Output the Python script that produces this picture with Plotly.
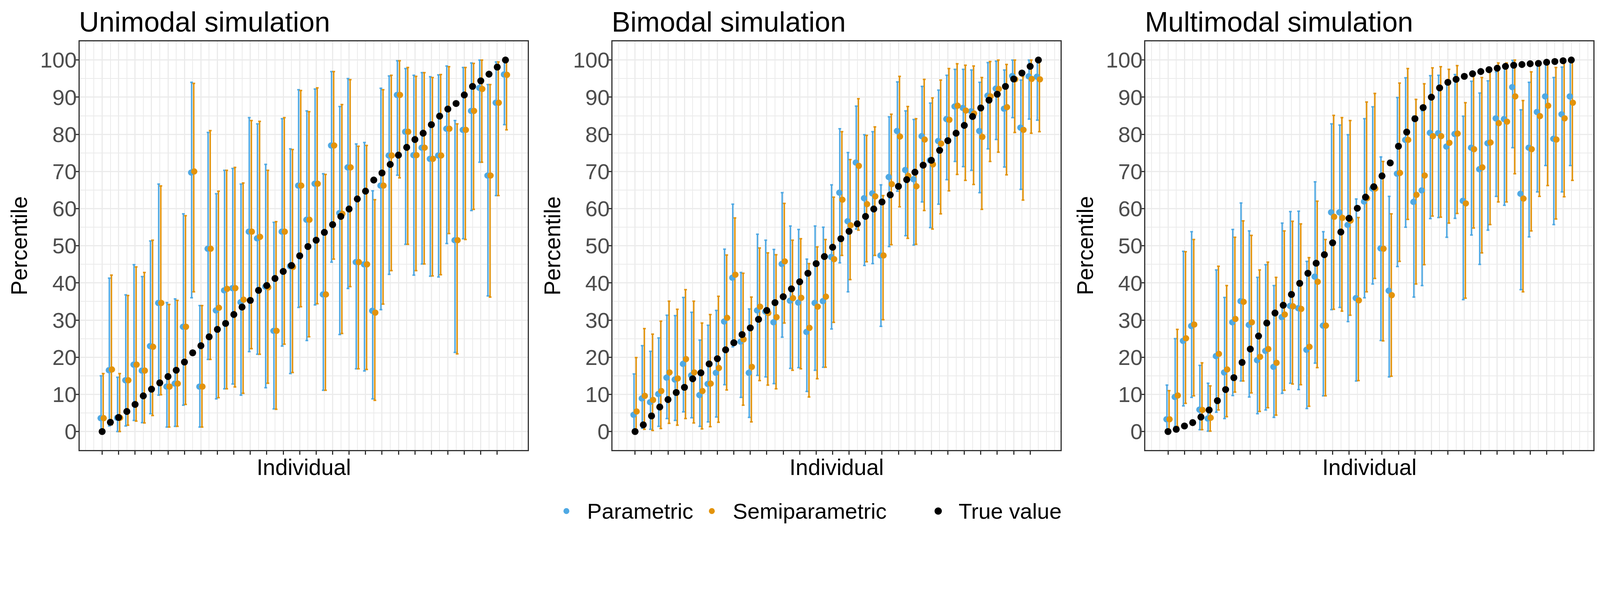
import plotly.graph_objects as go
from plotly.subplots import make_subplots

# target picture size; the page is photographed ~1.12x larger than css px,
# so the figure is built smaller and every absolute px value is divided by S
PW, PH = 4583, 1527
S = 1.12
W, H = round(PW / S), round(PH / S)


def px(v):
    return v / S


BLUE = "#4FA9E4"
ORANGE = "#E3930A"
FONT = "Liberation Sans"

panel_titles = ["Unimodal simulation", "Bimodal simulation", "Multimodal simulation"]
individual = list(range(1, 51))
y_ticks = list(range(0, 101, 10))

# --- unimodal ---
uni_true = [0, 2.5, 3.8, 5.4, 7.3, 9.6, 11.4, 13.1, 14.8, 16.5, 18.7, 21.2, 23.1, 25.5, 27.5, 29.1, 31.5, 33.5, 35.3, 38.0, 39.3, 41.2, 43.1, 44.7, 47.3,
            49.8, 51.5, 53.6, 55.7, 57.9, 59.9, 62.6, 64.7, 67.7, 69.6, 71.9, 74.4, 76.5, 78.6, 80.3, 82.6, 84.9, 86.8, 88.3, 90.6, 92.9, 94.4, 96.2, 98.1, 100.0]
uni_par = [3.6, 16.5, 3.7, 13.8, 18.0, 16.4, 23.0, 34.6, 12.1, 12.9, 28.2, 69.7, 12.1, 49.2, 32.6, 38.0, 38.6, 34.8, 53.8, 52.0, 39.0, 27.1, 53.8, 44.5, 66.2,
           57.0, 66.7, 36.9, 77.0, 58.8, 71.1, 45.6, 45.0, 32.5, 66.2, 74.3, 90.6, 80.7, 74.4, 76.4, 73.4, 74.3, 81.5, 51.5, 81.2, 86.3, 92.5, 68.9, 88.5, 96.1]
uni_par_lo = [0, 1.5, 0, 1.5, 3.0, 2.4, 4.8, 9.8, 1.2, 1.4, 7.1, 36.0, 1.2, 19.4, 8.8, 11.5, 12.8, 9.8, 21.5, 20.8, 11.8, 6.1, 23.0, 15.6, 33.4,
              24.5, 34.1, 11.1, 45.6, 26.1, 38.5, 16.9, 16.3, 8.8, 32.8, 42.3, 69.0, 50.4, 42.1, 45.1, 41.8, 41.6, 50.6, 21.3, 51.9, 59.5, 72.5, 36.5, 63.5, 82.6]
uni_par_hi = [15.0, 41.3, 14.6, 36.8, 44.9, 41.7, 51.3, 66.6, 34.7, 35.7, 58.6, 94.0, 33.9, 80.5, 64.0, 70.3, 70.8, 66.6, 84.5, 82.8, 71.9, 56.3, 84.2, 76.1, 92.0,
              86.3, 92.2, 69.4, 96.9, 87.5, 95.0, 77.4, 77.8, 64.8, 92.4, 95.7, 99.8, 97.7, 95.9, 96.6, 95.5, 96.0, 98.4, 83.7, 98.0, 99.2, 100.0, 93.4, 99.5, 100.0]
uni_semi = [3.6, 16.7, 3.7, 13.8, 18.0, 16.4, 22.8, 34.6, 12.1, 12.9, 28.2, 70.0, 12.1, 49.2, 33.3, 38.4, 38.6, 35.5, 53.8, 52.4, 38.8, 27.1, 53.8, 44.3, 66.2,
            57.0, 66.7, 36.9, 77.0, 58.6, 71.1, 45.6, 45.0, 32.0, 66.2, 74.3, 90.6, 80.7, 74.4, 76.4, 73.4, 74.3, 81.5, 51.5, 81.2, 86.3, 92.2, 68.9, 88.5, 96.0]
uni_semi_lo = [0, 1.8, 0, 1.7, 2.8, 2.3, 4.3, 9.9, 1.2, 1.4, 7.3, 37.6, 1.2, 19.4, 9.1, 11.5, 12.0, 10.3, 22.3, 20.8, 13.0, 6.0, 23.5, 15.9, 33.6,
               25.5, 34.4, 11.1, 46.4, 26.4, 39.0, 16.9, 16.7, 8.4, 34.3, 43.3, 68.3, 50.4, 43.3, 45.1, 41.9, 42.2, 53.3, 20.9, 51.7, 59.8, 72.5, 36.2, 63.5, 81.2]
uni_semi_hi = [15.6, 42.1, 15.6, 36.6, 44.3, 42.8, 51.5, 66.1, 34.2, 35.3, 58.1, 93.7, 33.9, 81.0, 64.7, 70.3, 71.1, 66.9, 83.7, 83.5, 70.3, 56.5, 84.5, 75.9, 91.8,
               86.1, 92.5, 69.2, 96.9, 88.0, 94.7, 76.8, 77.0, 62.4, 92.0, 95.9, 99.8, 98.0, 95.6, 96.6, 95.3, 96.1, 98.2, 82.8, 98.0, 99.1, 100.0, 93.4, 99.5, 99.5]

# --- bimodal ---
bi_true = [0, 1.8, 4.2, 6.6, 8.6, 10.5, 11.9, 14.2, 15.8, 18.2, 19.6, 22.0, 23.9, 26.1, 27.9, 30.2, 32.6, 34.7, 36.3, 38.4, 40.3, 42.6, 45.2, 47.1, 49.6,
           51.9, 53.9, 55.9, 57.9, 59.9, 61.8, 63.7, 66.0, 67.8, 69.8, 71.7, 73.0, 75.7, 78.3, 80.3, 82.4, 84.8, 87.1, 89.2, 90.8, 92.9, 94.9, 96.5, 98.3, 100.0]
bi_par = [4.5, 8.9, 7.9, 10.1, 14.5, 14.0, 18.2, 15.1, 9.8, 12.8, 15.8, 29.6, 41.4, 24.2, 15.8, 32.6, 32.3, 29.4, 45.1, 35.2, 34.7, 26.8, 34.6, 35.1, 47.0,
          64.3, 56.6, 72.4, 62.8, 64.1, 47.4, 68.5, 80.9, 70.4, 67.9, 79.5, 73.0, 78.2, 84.1, 87.5, 87.1, 86.2, 80.9, 90.4, 92.3, 86.9, 95.7, 81.8, 95.6, 95.5]
bi_par_lo = [0, 0.9, 0.6, 1.4, 3.5, 3.0, 5.3, 3.7, 1.4, 2.6, 3.9, 12.6, 22.8, 9.2, 3.8, 15.1, 14.7, 12.9, 25.4, 17.0, 17.2, 10.8, 16.5, 17.3, 27.6,
             45.4, 37.6, 54.5, 44.7, 45.2, 28.3, 49.8, 64.7, 52.7, 50.2, 61.8, 54.9, 61.2, 67.8, 72.7, 71.3, 70.3, 64.3, 76.1, 78.6, 71.2, 84.5, 65.2, 84.1, 83.8]
bi_par_hi = [15.5, 23.1, 21.6, 25.2, 31.3, 31.2, 36.1, 32.1, 24.6, 28.6, 32.6, 49.1, 61.2, 42.8, 33.0, 53.1, 51.5, 49.0, 64.3, 55.3, 54.4, 46.4, 55.3, 55.0, 66.4,
             81.5, 75.1, 87.6, 79.9, 80.7, 66.4, 84.7, 94.1, 86.3, 84.0, 92.9, 88.4, 91.9, 95.9, 97.5, 97.5, 97.3, 94.0, 99.3, 99.7, 97.3, 100.0, 94.6, 100.0, 100.0]
bi_semi = [5.4, 9.6, 8.5, 10.9, 15.9, 14.3, 19.5, 15.9, 10.9, 12.9, 17.1, 30.6, 42.2, 24.8, 17.4, 33.6, 31.9, 30.8, 45.8, 35.9, 36.0, 27.9, 33.6, 36.3, 46.4,
           62.4, 55.5, 71.5, 61.2, 63.3, 47.4, 66.6, 79.4, 68.8, 66.0, 78.6, 71.9, 77.5, 83.9, 87.7, 86.4, 85.6, 79.3, 90.2, 92.2, 87.3, 94.8, 81.2, 94.9, 94.8]
bi_semi_lo = [0, 0.6, 0.3, 0.8, 2.2, 1.7, 3.5, 2.3, 0.7, 1.3, 2.5, 11.2, 24.0, 7.1, 2.6, 13.7, 12.5, 11.5, 29.2, 16.5, 16.9, 9.3, 14.2, 17.3, 29.4,
              47.4, 40.9, 54.2, 45.7, 47.4, 30.1, 50.3, 60.5, 52.0, 50.4, 59.5, 54.5, 58.6, 64.8, 69.2, 67.6, 66.5, 59.8, 72.7, 75.2, 69.1, 80.5, 62.3, 80.3, 80.7]
bi_semi_hi = [19.9, 27.7, 26.2, 29.7, 35.1, 32.9, 38.2, 35.1, 29.2, 31.5, 36.4, 47.5, 57.5, 42.6, 36.2, 49.4, 48.1, 47.6, 61.4, 51.5, 51.9, 45.2, 49.7, 51.7, 63.1,
              80.7, 73.2, 89.6, 79.7, 82.0, 63.5, 85.4, 95.6, 87.5, 84.2, 94.8, 89.8, 94.6, 97.7, 99.0, 98.6, 98.4, 95.3, 99.6, 100.0, 98.8, 100.0, 95.5, 100.0, 100.0]

# --- multimodal ---
multi_true = [0, 0.6, 1.5, 2.4, 3.9, 5.8, 8.3, 11.3, 14.5, 18.6, 22.2, 25.7, 29.2, 31.9, 34.0, 36.9, 39.9, 42.6, 45.3, 47.6, 50.8, 53.7, 57.4, 60.1, 63.1,
              65.9, 68.8, 72.3, 76.8, 80.6, 84.2, 87.2, 90.0, 92.5, 94.0, 94.8, 95.6, 96.3, 96.9, 97.4, 97.8, 98.3, 98.6, 98.8, 99.0, 99.1, 99.4, 99.6, 99.8, 100.0]
multi_par = [3.3, 9.3, 24.4, 28.4, 5.9, 3.5, 20.3, 15.9, 29.4, 35.1, 28.7, 19.2, 21.7, 17.4, 30.8, 33.8, 33.2, 22.0, 41.7, 28.5, 59.0, 59.0, 55.6, 35.9, 61.9,
             65.4, 49.3, 37.9, 69.4, 78.5, 61.8, 64.9, 80.4, 80.3, 76.7, 80.1, 62.1, 76.4, 70.6, 77.6, 84.3, 84.1, 92.7, 64.0, 76.4, 86.0, 90.2, 78.8, 85.4, 90.2]
multi_par_lo = [0, 1.4, 6.9, 9.2, 0.5, 0.1, 5.2, 3.5, 9.7, 13.6, 9.3, 4.8, 5.8, 3.8, 10.3, 13.0, 11.3, 6.2, 18.4, 9.6, 32.8, 33.4, 29.6, 13.6, 36.0,
                39.7, 24.5, 14.7, 44.4, 55.0, 36.2, 39.3, 57.3, 57.6, 52.3, 57.4, 35.5, 52.9, 45.0, 54.2, 63.3, 60.9, 76.4, 38.2, 52.4, 64.5, 71.6, 55.7, 64.5, 71.6]
multi_par_hi = [12.5, 25.0, 48.5, 53.8, 17.8, 13.0, 43.5, 36.1, 54.4, 61.5, 54.0, 41.5, 44.9, 39.3, 56.1, 59.2, 59.3, 45.8, 67.2, 53.8, 82.8, 82.5, 79.9, 62.6, 84.2,
                87.4, 73.9, 63.3, 89.9, 95.2, 84.9, 86.3, 95.8, 95.9, 93.5, 96.1, 84.9, 94.3, 91.1, 94.4, 96.8, 97.9, 99.9, 86.6, 94.0, 98.8, 99.5, 95.3, 98.1, 99.7]
multi_semi = [3.3, 9.7, 25.1, 28.8, 5.8, 3.7, 20.9, 16.7, 30.3, 34.9, 29.4, 20.1, 22.2, 18.5, 31.5, 33.7, 33.0, 22.8, 40.3, 28.5, 57.8, 57.5, 56.8, 35.3, 62.8,
              65.4, 49.2, 36.7, 69.6, 78.5, 63.7, 68.9, 79.5, 79.5, 77.7, 80.2, 61.4, 76.0, 71.1, 77.8, 83.0, 83.4, 90.2, 62.7, 76.0, 84.9, 87.7, 78.6, 84.3, 88.5]
multi_semi_lo = [0, 1.4, 7.6, 9.6, 0.5, 0.1, 5.8, 4.0, 10.6, 13.6, 10.4, 5.4, 6.4, 4.4, 11.1, 12.8, 12.6, 6.8, 17.2, 9.6, 32.9, 32.4, 31.3, 13.7, 37.6,
                 41.2, 24.4, 14.9, 45.8, 57.1, 39.7, 44.9, 58.0, 57.7, 56.1, 58.7, 35.9, 54.8, 48.1, 55.7, 61.8, 61.8, 69.4, 37.6, 54.0, 63.3, 66.2, 57.2, 63.2, 67.6]
multi_semi_hi = [11.0, 27.5, 48.4, 51.7, 18.5, 12.3, 44.5, 39.3, 52.3, 56.7, 52.8, 43.5, 45.6, 41.5, 54.0, 56.6, 55.9, 46.8, 62.0, 51.7, 85.1, 84.5, 83.7, 57.6, 88.7,
                 91.0, 72.7, 58.6, 93.8, 97.7, 89.4, 93.6, 97.9, 98.2, 97.5, 98.5, 88.5, 96.4, 95.3, 97.4, 99.2, 99.2, 100.0, 89.1, 96.8, 99.2, 99.6, 98.0, 99.7, 100.0]

panels = [
    (uni_true, uni_par, uni_par_lo, uni_par_hi, uni_semi, uni_semi_lo, uni_semi_hi),
    (bi_true, bi_par, bi_par_lo, bi_par_hi, bi_semi, bi_semi_lo, bi_semi_hi),
    (multi_true, multi_par, multi_par_lo, multi_par_hi, multi_semi, multi_semi_lo, multi_semi_hi),
]

BAR_DODGE = 0.13
PT_DODGE = 0.19

fig = make_subplots(rows=1, cols=3)

for c, (true, par, par_lo, par_hi, semi, semi_lo, semi_hi) in enumerate(panels, start=1):
    # error bars first (blue then orange)
    for lo, hi, col, sgn in [(par_lo, par_hi, BLUE, -1), (semi_lo, semi_hi, ORANGE, 1)]:
        fig.add_trace(go.Scatter(
            x=[i + sgn * BAR_DODGE for i in individual],
            y=[(a + b) / 2 for a, b in zip(lo, hi)],
            mode="markers",
            marker=dict(size=1, color="rgba(0,0,0,0)"),
            error_y=dict(type="data", array=[(b - a) / 2 for a, b in zip(lo, hi)],
                         color=col, thickness=px(4.2), width=px(4)),
            showlegend=False, hoverinfo="skip"), row=1, col=c)
    # point estimates
    for est, col, sgn in [(par, BLUE, -1), (semi, ORANGE, 1)]:
        fig.add_trace(go.Scatter(
            x=[i + sgn * PT_DODGE for i in individual], y=est,
            mode="markers", marker=dict(size=px(18), color=col, line=dict(width=0)),
            showlegend=False), row=1, col=c)
    # true value
    fig.add_trace(go.Scatter(
        x=individual, y=true, mode="markers",
        marker=dict(size=px(20), color="black", line=dict(width=0)),
        showlegend=False), row=1, col=c)

# panel geometry, in px of the target picture
PANEL_W = 1285
PANEL_STEP = 1528
LEFT0 = 219
TOP, BOTTOM = 110, 1283

major_x = list(range(1, 50, 2))
minor_x = [v for v in range(-1, 53) if v not in major_x]

annotations = []
for k in range(3):
    L = LEFT0 + k * PANEL_STEP
    R = L + PANEL_W
    sfx = "" if k == 0 else str(k + 1)
    axis_common = dict(showline=True, mirror=True, linecolor="#333333", linewidth=px(3),
                       ticks="outside", ticklen=px(10), tickwidth=px(3), tickcolor="#333333",
                       showgrid=True, gridcolor="#EBEBEB", gridwidth=px(3.4), zeroline=False)
    fig.layout["xaxis" + sfx].update(
        domain=[L / PW, R / PW], range=[-1.75, 52.7],
        tickmode="array", tickvals=major_x, showticklabels=False,
        minor=dict(tickvals=minor_x, showgrid=True, gridcolor="#EBEBEB", gridwidth=px(1.7), ticklen=0),
        **axis_common)
    fig.layout["yaxis" + sfx].update(
        domain=[1 - BOTTOM / PH, 1 - TOP / PH], range=[-5, 105],
        tickmode="array", tickvals=y_ticks, ticktext=[str(v) for v in y_ticks],
        tickfont=dict(family=FONT, size=px(63), color="#4D4D4D"),
        ticklabelstandoff=-16,
        minor=dict(tickvals=list(range(5, 100, 10)), showgrid=True, gridcolor="#EBEBEB",
                   gridwidth=px(1.7), ticklen=0),
        **axis_common)

    annotations.append(dict(text=panel_titles[k], x=(L - 4) / PW, y=1 - 54 / PH, xref="paper", yref="paper",
                            xanchor="left", yanchor="middle", showarrow=False,
                            font=dict(family=FONT, size=px(80), color="black")))
    annotations.append(dict(text="Percentile", x=(46 + k * PANEL_STEP) / PW, y=1 - ((TOP + BOTTOM) / 2) / PH,
                            xref="paper", yref="paper", xanchor="center", yanchor="middle",
                            textangle=-90, showarrow=False,
                            font=dict(family=FONT, size=px(64), color="black")))
    annotations.append(dict(text="Individual", x=((L + R) / 2) / PW, y=1 - 1332 / PH,
                            xref="paper", yref="paper", xanchor="center", yanchor="middle",
                            showarrow=False, font=dict(family=FONT, size=px(64), color="black")))

# manual legend at the bottom
legend_items = [("Parametric", BLUE, 1615, 1672, 17),
                ("Semiparametric", ORANGE, 2032, 2090, 17),
                ("True value", "black", 2681, 2737, 21)]
shapes = []
LEG_Y = 1458
for label, col, cx, tx, d in legend_items:
    r = d / 2
    shapes.append(dict(type="circle", xref="paper", yref="paper",
                       x0=(cx - r) / PW, x1=(cx + r) / PW,
                       y0=1 - (LEG_Y + r) / PH, y1=1 - (LEG_Y - r) / PH,
                       fillcolor=col, line=dict(width=0)))
    annotations.append(dict(text=label, x=tx / PW, y=1 - LEG_Y / PH, xref="paper", yref="paper",
                            xanchor="left", yanchor="middle", showarrow=False,
                            font=dict(family=FONT, size=px(63), color="black")))

fig.update_layout(
    width=W, height=H,
    margin=dict(l=0, r=0, t=0, b=0),
    paper_bgcolor="white", plot_bgcolor="white",
    showlegend=False,
    annotations=annotations,
    shapes=shapes,
    font=dict(family=FONT),
)

fig.write_html("out.html")
